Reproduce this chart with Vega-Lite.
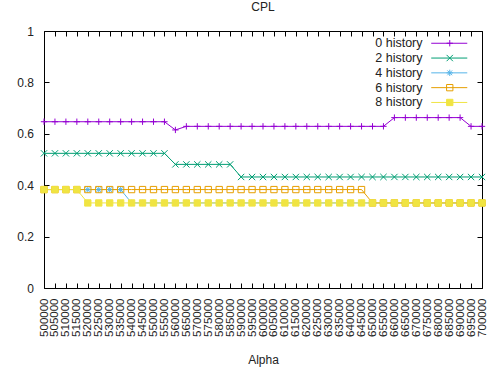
{
  "$schema": "https://vega.github.io/schema/vega-lite/v6.json",
  "width": 438,
  "height": 257,
  "autosize": {"type": "none"},
  "padding": {"left": 44, "top": 31, "right": 5, "bottom": 86},
  "background": "white",
  "title": {"text": "CPL", "fontSize": 12, "fontWeight": "normal", "font": "Liberation Sans", "color": "#222", "offset": 11, "frame": "group"},
  "config": {
    "view": {"stroke": "black", "strokeWidth": 1},
    "axis": {"labelFont": "Liberation Sans", "titleFont": "Liberation Sans", "labelColor": "#222", "titleColor": "#222", "labelFontSize": 12, "titleFontSize": 12, "titleFontWeight": "normal", "grid": false, "domain": false, "tickColor": "black", "tickSize": -5},
    "legend": {"labelFont": "Liberation Sans", "labelColor": "#222"}
  },
  "data": {"values": [
    {"alpha": 500000, "0 history": 0.647, "2 history": 0.524, "4 history": 0.383, "6 history": 0.383, "8 history": 0.383},
    {"alpha": 505000, "0 history": 0.647, "2 history": 0.524, "4 history": 0.383, "6 history": 0.383, "8 history": 0.383},
    {"alpha": 510000, "0 history": 0.647, "2 history": 0.524, "4 history": 0.383, "6 history": 0.383, "8 history": 0.383},
    {"alpha": 515000, "0 history": 0.647, "2 history": 0.524, "4 history": 0.383, "6 history": 0.383, "8 history": 0.383},
    {"alpha": 520000, "0 history": 0.647, "2 history": 0.524, "4 history": 0.383, "6 history": 0.383, "8 history": 0.331},
    {"alpha": 525000, "0 history": 0.647, "2 history": 0.524, "4 history": 0.383, "6 history": 0.383, "8 history": 0.331},
    {"alpha": 530000, "0 history": 0.647, "2 history": 0.524, "4 history": 0.383, "6 history": 0.383, "8 history": 0.331},
    {"alpha": 535000, "0 history": 0.647, "2 history": 0.524, "4 history": 0.383, "6 history": 0.383, "8 history": 0.331},
    {"alpha": 540000, "0 history": 0.647, "2 history": 0.524, "4 history": 0.331, "6 history": 0.383, "8 history": 0.331},
    {"alpha": 545000, "0 history": 0.647, "2 history": 0.524, "4 history": 0.331, "6 history": 0.383, "8 history": 0.331},
    {"alpha": 550000, "0 history": 0.647, "2 history": 0.524, "4 history": 0.331, "6 history": 0.383, "8 history": 0.331},
    {"alpha": 555000, "0 history": 0.647, "2 history": 0.524, "4 history": 0.331, "6 history": 0.383, "8 history": 0.331},
    {"alpha": 560000, "0 history": 0.615, "2 history": 0.481, "4 history": 0.331, "6 history": 0.383, "8 history": 0.331},
    {"alpha": 565000, "0 history": 0.629, "2 history": 0.481, "4 history": 0.331, "6 history": 0.383, "8 history": 0.331},
    {"alpha": 570000, "0 history": 0.629, "2 history": 0.481, "4 history": 0.331, "6 history": 0.383, "8 history": 0.331},
    {"alpha": 575000, "0 history": 0.629, "2 history": 0.481, "4 history": 0.331, "6 history": 0.383, "8 history": 0.331},
    {"alpha": 580000, "0 history": 0.629, "2 history": 0.481, "4 history": 0.331, "6 history": 0.383, "8 history": 0.331},
    {"alpha": 585000, "0 history": 0.629, "2 history": 0.481, "4 history": 0.331, "6 history": 0.383, "8 history": 0.331},
    {"alpha": 590000, "0 history": 0.629, "2 history": 0.432, "4 history": 0.331, "6 history": 0.383, "8 history": 0.331},
    {"alpha": 595000, "0 history": 0.629, "2 history": 0.432, "4 history": 0.331, "6 history": 0.383, "8 history": 0.331},
    {"alpha": 600000, "0 history": 0.629, "2 history": 0.432, "4 history": 0.331, "6 history": 0.383, "8 history": 0.331},
    {"alpha": 605000, "0 history": 0.629, "2 history": 0.432, "4 history": 0.331, "6 history": 0.383, "8 history": 0.331},
    {"alpha": 610000, "0 history": 0.629, "2 history": 0.432, "4 history": 0.331, "6 history": 0.383, "8 history": 0.331},
    {"alpha": 615000, "0 history": 0.629, "2 history": 0.432, "4 history": 0.331, "6 history": 0.383, "8 history": 0.331},
    {"alpha": 620000, "0 history": 0.629, "2 history": 0.432, "4 history": 0.331, "6 history": 0.383, "8 history": 0.331},
    {"alpha": 625000, "0 history": 0.629, "2 history": 0.432, "4 history": 0.331, "6 history": 0.383, "8 history": 0.331},
    {"alpha": 630000, "0 history": 0.629, "2 history": 0.432, "4 history": 0.331, "6 history": 0.383, "8 history": 0.331},
    {"alpha": 635000, "0 history": 0.629, "2 history": 0.432, "4 history": 0.331, "6 history": 0.383, "8 history": 0.331},
    {"alpha": 640000, "0 history": 0.629, "2 history": 0.432, "4 history": 0.331, "6 history": 0.383, "8 history": 0.331},
    {"alpha": 645000, "0 history": 0.629, "2 history": 0.432, "4 history": 0.331, "6 history": 0.383, "8 history": 0.331},
    {"alpha": 650000, "0 history": 0.629, "2 history": 0.432, "4 history": 0.331, "6 history": 0.331, "8 history": 0.331},
    {"alpha": 655000, "0 history": 0.629, "2 history": 0.432, "4 history": 0.331, "6 history": 0.331, "8 history": 0.331},
    {"alpha": 660000, "0 history": 0.663, "2 history": 0.432, "4 history": 0.331, "6 history": 0.331, "8 history": 0.331},
    {"alpha": 665000, "0 history": 0.663, "2 history": 0.432, "4 history": 0.331, "6 history": 0.331, "8 history": 0.331},
    {"alpha": 670000, "0 history": 0.663, "2 history": 0.432, "4 history": 0.331, "6 history": 0.331, "8 history": 0.331},
    {"alpha": 675000, "0 history": 0.663, "2 history": 0.432, "4 history": 0.331, "6 history": 0.331, "8 history": 0.331},
    {"alpha": 680000, "0 history": 0.663, "2 history": 0.432, "4 history": 0.331, "6 history": 0.331, "8 history": 0.331},
    {"alpha": 685000, "0 history": 0.663, "2 history": 0.432, "4 history": 0.331, "6 history": 0.331, "8 history": 0.331},
    {"alpha": 690000, "0 history": 0.663, "2 history": 0.432, "4 history": 0.331, "6 history": 0.331, "8 history": 0.331},
    {"alpha": 695000, "0 history": 0.629, "2 history": 0.432, "4 history": 0.331, "6 history": 0.331, "8 history": 0.331},
    {"alpha": 700000, "0 history": 0.629, "2 history": 0.432, "4 history": 0.331, "6 history": 0.331, "8 history": 0.331}
  ]},
  "transform": [
    {"fold": ["0 history", "2 history", "4 history", "6 history", "8 history"], "as": ["series", "cpl"]}
  ],
  "layer": [
    {
      "mark": {"type": "line", "strokeWidth": 1},
      "encoding": {
        "x": {"field": "alpha", "type": "quantitative", "title": "Alpha",
              "scale": {"domain": [500000, 700000], "nice": false, "zero": false},
              "axis": {"orient": "bottom", "format": "d", "labelAngle": -90, "labelFontSize": 11.5, "labelPadding": 15, "titlePadding": 18,
                       "values": [500000,505000,510000,515000,520000,525000,530000,535000,540000,545000,550000,555000,560000,565000,570000,575000,580000,585000,590000,595000,600000,605000,610000,615000,620000,625000,630000,635000,640000,645000,650000,655000,660000,665000,670000,675000,680000,685000,690000,695000,700000], "labelOverlap": false}},
        "y": {"field": "cpl", "type": "quantitative", "title": null,
              "scale": {"domain": [0, 1], "nice": false},
              "axis": {"orient": "left", "values": [0, 0.2, 0.4, 0.6, 0.8, 1], "format": "~g", "labelPadding": 15.5}},
        "stroke": {
          "field": "series", "type": "nominal",
          "scale": {"domain": ["0 history", "2 history", "4 history", "6 history", "8 history"], "range": ["#9400d3", "#009e73", "#56b4e9", "#e69f00", "#f0e442"]},
          "legend": {"orient": "none", "legendX": 399, "legendY": 6, "title": null, "symbolType": "M-5,0L5,0", "symbolSize": 52, "symbolStrokeWidth": 1, "symbolFillColor": "transparent", "labelAlign": "right", "labelOffset": -33, "labelFontSize": 12.5, "padding": 0, "rowPadding": 1.8, "labelLimit": 0}
        }
      }
    },
    {
      "mark": {"type": "point", "filled": false, "strokeWidth": 1, "opacity": 1},
      "encoding": {
        "x": {"field": "alpha", "type": "quantitative",
              "axis": {"orient": "top", "labels": false, "title": null,
                       "values": [500000,505000,510000,515000,520000,525000,530000,535000,540000,545000,550000,555000,560000,565000,570000,575000,580000,585000,590000,595000,600000,605000,610000,615000,620000,625000,630000,635000,640000,645000,650000,655000,660000,665000,670000,675000,680000,685000,690000,695000,700000]}},
        "y": {"field": "cpl", "type": "quantitative",
              "axis": {"orient": "right", "labels": false, "title": null, "values": [0, 0.2, 0.4, 0.6, 0.8, 1]}},
        "color": {
          "field": "series", "type": "nominal",
          "scale": {"range": ["#9400d3", "#009e73", "#56b4e9", "#e69f00", "#f0e442"]},
          "legend": {"orient": "none", "legendX": 399.5, "legendY": 6, "title": null, "symbolSize": 40, "symbolStrokeWidth": 1, "labelAlign": "right", "labelOffset": -33, "labelFontSize": 12.5, "labelOpacity": 0, "padding": 0, "rowPadding": 1.8, "labelLimit": 0}
        },
        "shape": {
          "field": "series", "type": "nominal",
          "scale": {"range": ["M-1,0L1,0M0,-1L0,1", "M-1,-1L1,1M-1,1L1,-1", "M-1,0L1,0M0,-1L0,1M-0.75,-0.75L0.75,0.75M-0.75,0.75L0.75,-0.75", "square", "square"]},
          "legend": {"orient": "none", "legendX": 399.5, "legendY": 6, "title": null, "symbolSize": 40, "symbolStrokeWidth": 1, "labelAlign": "right", "labelOffset": -33, "labelFontSize": 12.5, "labelOpacity": 0, "padding": 0, "rowPadding": 1.8, "labelLimit": 0}
        },
        "fill": {
          "field": "series", "type": "nominal",
          "scale": {"range": ["transparent", "transparent", "transparent", "transparent", "#f0e442"]},
          "legend": {"orient": "none", "legendX": 399.5, "legendY": 6, "title": null, "symbolSize": 40, "symbolStrokeWidth": 1, "labelAlign": "right", "labelOffset": -33, "labelFontSize": 12.5, "labelOpacity": 0, "padding": 0, "rowPadding": 1.8, "labelLimit": 0}
        },
        "size": {"value": 40}
      }
    }
  ],
  "resolve": {"axis": {"x": "independent", "y": "independent"}}
}
